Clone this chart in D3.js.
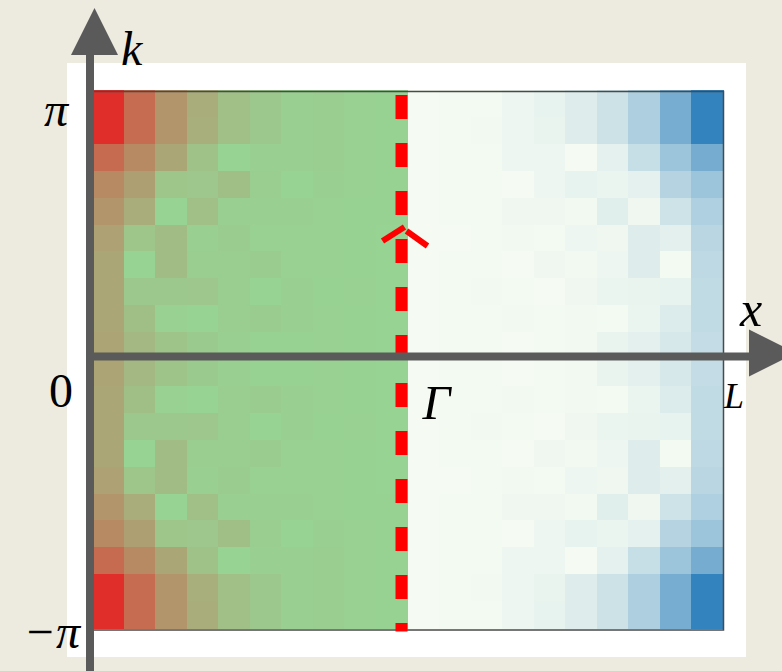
<!DOCTYPE html>
<html>
<head>
<meta charset="utf-8">
<script src="https://cdn.jsdelivr.net/npm/d3@7"></script>
<style>
  body { margin: 0; background: #edebe0; }
  svg { display: block; }
  text { font-family: "Liberation Serif", "DejaVu Serif", serif; fill: #000; }
</style>
</head>
<body>
<svg id="chart" width="782" height="671"></svg>
<script>
// k axis ticks (top to bottom)
const kTickValues = [Math.PI, 0, -Math.PI];
const kTickLabels = ["π", "0", "−π"];

// high-symmetry points along x
const pointLabels = ["Γ", "L"];

// Left block (x from edge to Γ): 0 = red, 1 = green. Rows run from k = π down to k = −π.
const leftBand = [
  [0.00, 0.37, 0.62, 0.76, 0.88, 0.93, 0.97, 0.96, 0.98, 0.99],
  [0.00, 0.37, 0.62, 0.77, 0.88, 0.93, 0.97, 0.96, 0.98, 0.99],
  [0.36, 0.55, 0.72, 0.89, 1.00, 0.97, 0.97, 0.96, 0.98, 0.99],
  [0.55, 0.68, 0.91, 0.92, 0.87, 0.96, 1.00, 0.97, 0.98, 0.99],
  [0.62, 0.76, 1.00, 0.88, 0.97, 0.97, 0.97, 0.98, 0.99, 0.99],
  [0.69, 0.91, 0.86, 0.97, 0.95, 0.98, 0.98, 0.98, 0.99, 1.00],
  [0.72, 1.00, 0.86, 0.96, 0.96, 0.95, 0.98, 0.98, 0.99, 1.00],
  [0.72, 0.93, 0.93, 0.92, 0.96, 1.00, 0.97, 0.99, 0.98, 1.00],
  [0.72, 0.87, 0.98, 1.00, 0.96, 0.95, 0.97, 0.98, 0.99, 1.00],
  [0.71, 0.83, 0.90, 0.94, 0.97, 0.99, 0.99, 0.98, 0.99, 1.00],
  [0.71, 0.83, 0.90, 0.94, 0.97, 0.99, 0.99, 0.98, 0.99, 1.00],
  [0.72, 0.87, 0.98, 1.00, 0.96, 0.95, 0.97, 0.98, 0.99, 1.00],
  [0.72, 0.93, 0.93, 0.92, 0.96, 1.00, 0.97, 0.99, 0.98, 1.00],
  [0.72, 1.00, 0.86, 0.96, 0.96, 0.95, 0.98, 0.98, 0.99, 1.00],
  [0.69, 0.91, 0.86, 0.97, 0.95, 0.98, 0.98, 0.98, 0.99, 1.00],
  [0.62, 0.76, 1.00, 0.88, 0.97, 0.97, 0.97, 0.98, 0.99, 0.99],
  [0.55, 0.68, 0.91, 0.92, 0.87, 0.96, 1.00, 0.97, 0.98, 0.99],
  [0.36, 0.55, 0.72, 0.89, 1.00, 0.97, 0.97, 0.96, 0.98, 0.99],
  [0.00, 0.37, 0.62, 0.77, 0.88, 0.93, 0.97, 0.96, 0.98, 0.99],
  [0.00, 0.37, 0.62, 0.76, 0.88, 0.93, 0.97, 0.96, 0.98, 0.99]
];

// Right block (Γ to L): 0 = pale, 1 = deep blue.
const rightBand = [
  [0.00, 0.01, 0.01, 0.04, 0.07, 0.12, 0.21, 0.37, 0.65, 1.00],
  [0.00, 0.01, 0.02, 0.04, 0.06, 0.12, 0.21, 0.37, 0.65, 1.00],
  [0.00, 0.01, 0.01, 0.04, 0.04, 0.00, 0.08, 0.24, 0.46, 0.66],
  [0.00, 0.01, 0.01, 0.00, 0.04, 0.07, 0.05, 0.08, 0.33, 0.46],
  [0.00, 0.01, 0.01, 0.03, 0.03, 0.02, 0.11, 0.03, 0.20, 0.36],
  [0.00, 0.00, 0.01, 0.02, 0.01, 0.04, 0.03, 0.12, 0.09, 0.31],
  [0.00, 0.01, 0.01, 0.00, 0.03, 0.02, 0.04, 0.12, 0.01, 0.28],
  [0.00, 0.01, 0.02, 0.01, 0.00, 0.03, 0.05, 0.06, 0.07, 0.27],
  [0.00, 0.01, 0.01, 0.02, 0.01, 0.02, 0.01, 0.05, 0.13, 0.27],
  [0.00, 0.01, 0.01, 0.00, 0.01, 0.02, 0.06, 0.09, 0.16, 0.26],
  [0.00, 0.01, 0.01, 0.00, 0.01, 0.02, 0.06, 0.09, 0.16, 0.26],
  [0.00, 0.01, 0.01, 0.02, 0.01, 0.02, 0.01, 0.05, 0.13, 0.27],
  [0.00, 0.01, 0.02, 0.01, 0.00, 0.03, 0.05, 0.06, 0.07, 0.27],
  [0.00, 0.01, 0.01, 0.00, 0.03, 0.02, 0.04, 0.12, 0.01, 0.28],
  [0.00, 0.00, 0.01, 0.02, 0.01, 0.04, 0.03, 0.12, 0.09, 0.31],
  [0.00, 0.01, 0.01, 0.03, 0.03, 0.02, 0.11, 0.03, 0.20, 0.36],
  [0.00, 0.01, 0.01, 0.00, 0.04, 0.07, 0.05, 0.08, 0.33, 0.46],
  [0.00, 0.01, 0.01, 0.04, 0.04, 0.00, 0.08, 0.24, 0.46, 0.66],
  [0.00, 0.01, 0.02, 0.04, 0.06, 0.12, 0.21, 0.37, 0.65, 1.00],
  [0.00, 0.01, 0.01, 0.04, 0.07, 0.12, 0.21, 0.37, 0.65, 1.00]
];

const svg = d3.select("#chart");
const axisGrey = "#5a5a5a";

const nRows = leftBand.length;
const nLeft = leftBand[0].length;
const nCols = nLeft + rightBand[0].length;

// plot area
const plot = { x0: 92, x1: 723, y0: 90, y1: 628 };

const xBand = d3.scaleBand().domain(d3.range(nCols)).range([plot.x0, plot.x1]);
const yBand = d3.scaleBand().domain(d3.range(nRows)).range([plot.y0, plot.y1]);
const kScale = d3.scaleLinear().domain([-Math.PI, Math.PI]).range([plot.y1, plot.y0]);

const leftColor = d3.scaleLinear().domain([0, 1]).range(["#e02f2a", "#97d494"]).interpolate(d3.interpolateRgb);
const rightColor = d3.scaleLinear().domain([0, 1]).range(["#f5fbf2", "#3383bf"]).interpolate(d3.interpolateRgb);

// white panel behind the map
svg.append("rect")
  .attr("x", 67).attr("y", 63)
  .attr("width", 746 - 67).attr("height", 657 - 63)
  .attr("fill", "#ffffff");

// cells
const cells = [];
for (let r = 0; r < nRows; r++) {
  leftBand[r].forEach((v, c) => cells.push({ r, c, fill: leftColor(v) }));
  rightBand[r].forEach((v, c) => cells.push({ r, c: c + nLeft, fill: rightColor(v) }));
}
svg.append("g")
  .selectAll("rect")
  .data(cells)
  .join("rect")
  .attr("x", d => xBand(d.c))
  .attr("y", d => yBand(d.r))
  .attr("width", xBand.bandwidth() + 0.5)
  .attr("height", yBand.bandwidth() + 0.5)
  .attr("fill", d => d.fill)
  .attr("shape-rendering", "crispEdges");

// frame
svg.append("rect")
  .attr("x", plot.x0).attr("y", plot.y0 + 1.5)
  .attr("width", plot.x1 - plot.x0 + 0.5)
  .attr("height", plot.y1 - plot.y0 + 0.5)
  .attr("fill", "none")
  .attr("stroke", "#4a4a4a")
  .attr("stroke-width", 1.5);

// Γ line (dashed) and the arrow mark on it
const gammaX = xBand(nLeft) - 6;
svg.append("line")
  .attr("x1", gammaX).attr("x2", gammaX)
  .attr("y1", plot.y0 + 5).attr("y2", plot.y1 + 3.5)
  .attr("stroke", "#ff0000")
  .attr("stroke-width", 12)
  .attr("stroke-dasharray", "24,24");

const chevY = kScale(Math.PI / 2) + 2.5;
svg.append("line")
  .attr("x1", gammaX - 19).attr("y1", chevY + 14)
  .attr("x2", gammaX + 3).attr("y2", chevY)
  .attr("stroke", "#ff0000").attr("stroke-width", 6);
svg.append("line")
  .attr("x1", gammaX + 5).attr("y1", chevY + 4)
  .attr("x2", gammaX + 26).attr("y2", chevY + 19)
  .attr("stroke", "#ff0000").attr("stroke-width", 6);

// axes with arrow heads
const yAxisX = 90;
const xAxisY = kScale(0) - 2.5;
svg.append("line")
  .attr("x1", yAxisX).attr("x2", yAxisX)
  .attr("y1", 54).attr("y2", 671)
  .attr("stroke", axisGrey).attr("stroke-width", 8);
svg.append("polygon")
  .attr("points", [[71, 55], [118, 55], [94.5, 8]].map(p => p.join(",")).join(" "))
  .attr("fill", axisGrey);

svg.append("line")
  .attr("x1", yAxisX + 4).attr("x2", 750)
  .attr("y1", xAxisY).attr("y2", xAxisY)
  .attr("stroke", axisGrey).attr("stroke-width", 8);
svg.append("polygon")
  .attr("points", [[749, xAxisY - 27], [749, xAxisY + 20], [796, xAxisY - 3.5]].map(p => p.join(",")).join(" "))
  .attr("fill", axisGrey);

// axis names
svg.append("text").attr("x", 121).attr("y", 65)
  .attr("font-size", 48).attr("font-style", "italic").text("k");
svg.append("text").attr("x", 740).attr("y", 326)
  .attr("font-size", 50).attr("font-style", "italic").text("x");

// k tick labels
const kLabelPos = [
  { x: 68, dy: 36 },
  { x: 73, dy: 48 },
  { x: 80, dy: 20 }
];
svg.append("g")
  .selectAll("text")
  .data(kTickValues)
  .join("text")
  .attr("x", (d, i) => kLabelPos[i].x)
  .attr("y", (d, i) => kScale(d) + kLabelPos[i].dy)
  .attr("text-anchor", "end")
  .attr("font-size", 48)
  .attr("font-style", (d, i) => i === 1 ? "normal" : "italic")
  .text((d, i) => kTickLabels[i]);

// high-symmetry point labels
svg.append("text").attr("x", xBand(nLeft) + 15).attr("y", kScale(0) + 60)
  .attr("font-size", 49).attr("font-style", "italic").text(pointLabels[0]);
svg.append("text").attr("x", plot.x1 + 1).attr("y", kScale(0) + 49)
  .attr("font-size", 36).attr("font-style", "italic").text(pointLabels[1]);
</script>
</body>
</html>
